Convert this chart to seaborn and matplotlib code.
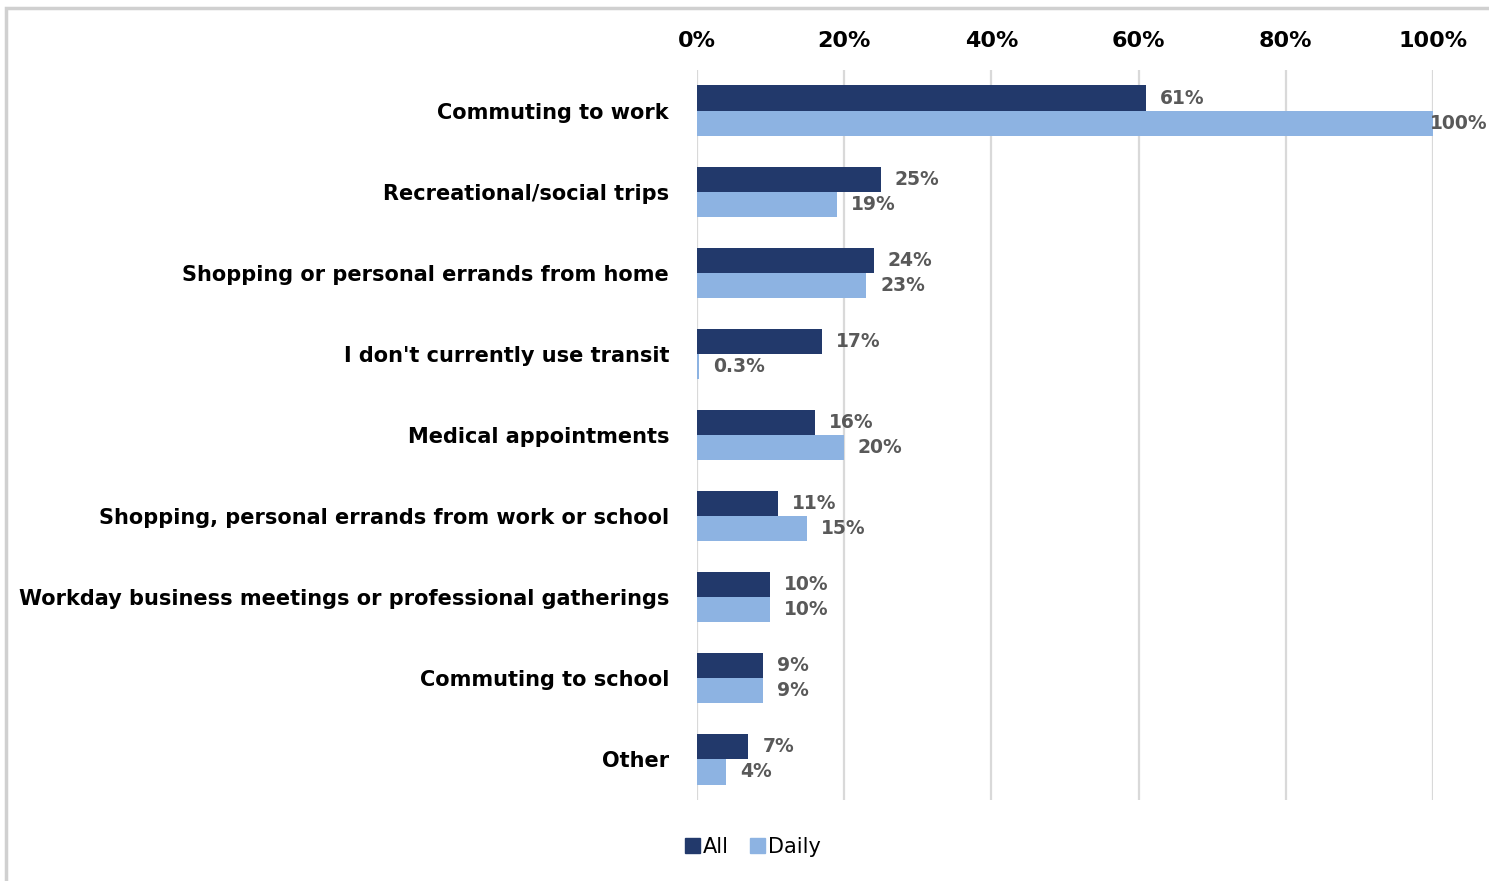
import matplotlib
matplotlib.use("Agg")
import matplotlib.pyplot as plt
import matplotlib.patches as mpatches
import pandas as pd
import seaborn as sns

categories = [
    "Commuting to work",
    "Recreational/social trips",
    "Shopping or personal errands from home",
    "I don't currently use transit",
    "Medical appointments",
    "Shopping, personal errands from work or school",
    "Workday business meetings or professional gatherings",
    "Commuting to school",
    "Other",
]
all_riders = [61, 25, 24, 17, 16, 11, 10, 9, 7]
daily_riders = [100, 19, 23, 0.3, 20, 15, 10, 9, 4]
series_names = ["All", "Daily"]
tick_values = [0, 20, 40, 60, 80, 100]
tick_labels = ["0%", "20%", "40%", "60%", "80%", "100%"]

colors = {"All": "#22396B", "Daily": "#8DB3E2"}

df = pd.DataFrame({
    "Purpose": categories * 2,
    "Share": all_riders + daily_riders,
    "Series": [series_names[0]] * len(categories) + [series_names[1]] * len(categories),
})

sns.set_theme(style="white")
plt.rcParams["font.family"] = ["DejaVu Sans"]

fig = plt.figure(figsize=(14.89, 8.81), dpi=100)
ax = fig.add_axes([0.468, 0.092, 0.9624 - 0.468, 0.9205 - 0.092])

sns.barplot(data=df, y="Purpose", x="Share", hue="Series", order=categories,
            hue_order=series_names, palette=colors, orient="h", width=0.62,
            saturation=1, linewidth=0, ax=ax, legend=False)

ax.set_xlim(0, 100)
ax.set_ylim(len(categories) - 0.5, -0.5)
ax.set_xticks(tick_values)
ax.set_xticklabels(tick_labels, fontsize=16, fontweight="bold", color="black")
ax.xaxis.tick_top()
ax.tick_params(axis="x", length=0, pad=14)
ax.tick_params(axis="y", length=0, pad=20)
for lbl in ax.get_yticklabels():
    lbl.set_fontsize(15)
    lbl.set_fontweight("bold")
    lbl.set_color("black")
ax.set_xlabel("")
ax.set_ylabel("")
for s in ax.spines.values():
    s.set_visible(False)
ax.xaxis.grid(True, color="#D9D9D9", linewidth=1.6)
ax.set_axisbelow(True)

# value labels at the end of each bar
for container in ax.containers:
    for bar in container:
        v = bar.get_width()
        y = bar.get_y() + bar.get_height() / 2
        offset = -2 if v >= 99 else 10
        ax.annotate(f"{v:g}%", xy=(v, y), xytext=(offset, 0),
                    textcoords="offset points", va="center", ha="left",
                    fontsize=13.5, fontweight="bold", color="#595959",
                    annotation_clip=False)

handles = [mpatches.Patch(color=colors[n], label=n) for n in series_names]
leg = fig.legend(handles=handles, loc="center", bbox_to_anchor=(753 / 1489, 1 - 847 / 881),
                 ncol=2, frameon=False, fontsize=15, handlelength=0.7, handleheight=0.7,
                 handletextpad=0.15, columnspacing=1.0)
for t in leg.get_texts():
    t.set_color("black")

# outer frame
fig.patches.append(mpatches.Rectangle((6 / 1489, -0.05), 1.1, 1 - 8 / 881 + 0.05,
                                      transform=fig.transFigure, fill=False,
                                      edgecolor="#D0D0D0", linewidth=2.5))

fig.savefig("out.png", dpi=100)
